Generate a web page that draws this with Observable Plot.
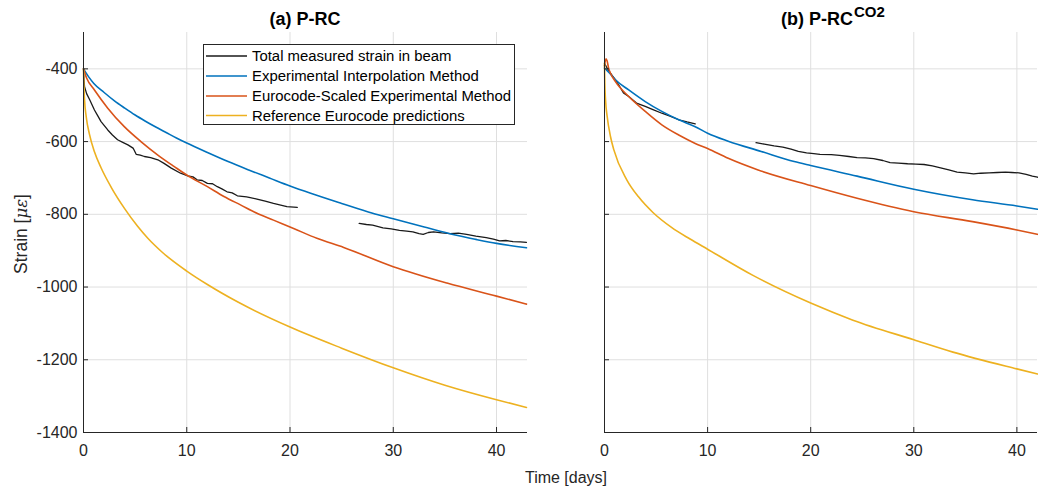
<!DOCTYPE html>
<html>
<head>
<meta charset="utf-8">
<script src="https://cdn.jsdelivr.net/npm/d3@7"></script>
<script src="https://cdn.jsdelivr.net/npm/@observablehq/plot@0.6"></script>
<style>
  html, body { margin: 0; padding: 0; background: #fff; }
  #wrap { position: relative; width: 1038px; height: 488px; overflow: hidden; background: #fff;
          font-family: "Liberation Sans", Arial, Helvetica, sans-serif; }
  #wrap > div, #wrap > svg { position: absolute; top: 0; }
</style>
</head>
<body>
<div id="wrap"></div>
<script>
// ---------------- DATA ----------------
const panelTitles = ["(a) P-RC", "(b) P-RC"];
const panelTitleSup = ["", "CO2"];
const xLabel = "Time [days]";
const yLabelText = "Strain [";
const yLabelMath = "με";
const legendLabels = [
  "Total measured strain in beam",
  "Experimental Interpolation Method",
  "Eurocode-Scaled Experimental Method",
  "Reference Eurocode predictions"
];
const seriesColors = ["#1a1a1a", "#0072BD", "#D95319", "#EDB120"];

const xTicks = [0, 10, 20, 30, 40];
const yTicks = [-1400, -1200, -1000, -800, -600, -400];
const xDomainA = [0, 43];
const xDomainB = [0, 42];
const yDomain = [-1400, -300];

// Panel (a) P-RC  : [time (days), strain (µε)]
const prcMeasured1 = [[0,-400],[0.05,-430],[0.1,-449],[0.3,-468],[0.6,-485],[1.06,-513],[1.4,-530],[1.7,-545],[2.35,-568],[2.8,-582],[3.3,-595],[3.8,-602],[4.3,-609],[4.8,-618],[4.9,-623],[5.1,-635],[5.5,-637],[5.9,-641],[6.5,-644],[7.2,-650],[7.8,-660],[8.5,-673],[9.4,-687],[10.1,-694],[10.6,-697],[11.0,-705],[11.5,-707],[12.0,-715],[12.5,-716],[12.96,-724],[13.4,-730],[13.9,-738],[14.4,-741],[14.9,-749],[15.8,-752],[16.8,-758],[17.6,-764],[18.4,-770],[19.0,-774],[19.7,-779],[20.7,-781]];
const prcMeasured2 = [[26.7,-825],[27.4,-828],[28.0,-830],[29.0,-837],[29.8,-840],[30.6,-844],[31.3,-846],[31.9,-848],[32.5,-853],[32.9,-855],[33.4,-850],[33.9,-848],[34.7,-851],[35.5,-853],[36.3,-852],[37.1,-855],[38.0,-860],[39.0,-864],[39.7,-868],[40.3,-873],[40.9,-872],[41.6,-875],[42.3,-876],[42.9,-877]];
const prcInterp = [[0,-400],[0.5,-422],[1,-440],[2,-465],[3,-488],[4,-508],[5,-527],[6,-544],[7,-560],[8,-575],[9,-590],[10,-604],[12,-630],[14,-655],[16,-678],[18,-700],[20,-722],[22,-742],[25,-770],[28,-797],[30,-812],[33,-835],[36,-857],[38,-869],[40,-880],[42.9,-892]];
const prcScaled = [[0,-400],[0.3,-425],[1.06,-458],[2.35,-508],[3.95,-559],[5.56,-600],[7.2,-637],[8.8,-669],[10,-692],[12,-724],[13.6,-751],[15.2,-774],[16.8,-797],[18.4,-816],[20.35,-839],[22.6,-866],[25.2,-891],[30,-944],[35.2,-989],[40,-1025],[42.9,-1047]];
const prcReference = [[0,-400],[0.03,-440],[0.1,-485],[0.26,-531],[0.58,-580],[1.06,-628],[1.7,-672],[2.67,-725],[4,-785],[5.24,-833],[6.23,-866],[7.57,-903],[10,-956],[12,-993],[15,-1042],[20,-1110],[25,-1168],[30,-1222],[35,-1270],[40,-1310],[42.9,-1331]];

// Panel (b) P-RC CO2
const co2Measured1 = [[0,-385],[0.2,-395],[0.58,-412],[1.06,-430],[1.4,-445],[1.84,-466],[2.35,-476],[3.1,-494],[3.95,-503],[4.7,-512],[5.56,-522],[6.35,-530],[7.2,-540],[8.0,-546],[8.8,-551]];
const co2Measured2 = [[14.7,-603],[15.5,-607],[16.45,-612],[17.3,-615],[18.1,-621],[18.8,-627],[19.6,-631],[20.3,-633],[20.9,-635],[22.0,-636],[22.8,-638],[23.7,-641],[24.5,-644],[25.3,-645],[26.1,-647],[27.0,-652],[27.7,-658],[28.5,-659],[29.4,-661],[30.2,-662],[31,-663],[31.8,-667],[32.6,-672],[33.4,-678],[34.2,-684],[35.0,-686],[35.8,-689],[36.5,-687],[37.3,-686],[38.1,-685],[38.9,-684],[39.5,-685],[40.2,-686],[40.9,-690],[41.5,-695],[42,-698]];
const co2Interp = [[0,-398],[0.5,-412],[1.06,-430],[2.35,-458],[3.95,-490],[5.56,-517],[7.2,-540],[8.8,-559],[10,-577],[12,-599],[15.2,-627],[18.4,-655],[20,-666],[24.5,-695],[30,-731],[35.7,-760],[40,-777],[42,-786]];
const co2Scaled = [[0,-392],[0.15,-372],[0.25,-378],[0.4,-398],[0.58,-412],[1.06,-435],[2.35,-476],[3.95,-517],[5.56,-554],[7.2,-582],[8.8,-605],[10,-619],[12,-646],[14.9,-678],[20,-721],[24.5,-756],[30,-793],[35.7,-820],[40,-843],[42,-855]];
const co2Reference = [[0,-384],[0.03,-439],[0.1,-485],[0.26,-531],[0.58,-586],[0.9,-622],[2.16,-705],[3.3,-752],[4.7,-795],[6.5,-836],[8.3,-868],[10,-896],[14.4,-968],[20,-1044],[24.1,-1091],[30,-1145],[33.8,-1179],[40,-1225],[42,-1239]];

// ---------------- CHART ----------------
const H = 488, MT = 32, MB = 56;
const gridColor = "#dfdfdf", axisColor = "#262626";
const font = '"Liberation Sans", Arial, Helvetica, sans-serif';

function toRows(pairs, seg) { return pairs.map(([t, v]) => ({t, v, seg})); }

function panel({width, marginLeft, marginRight, xDomain, showYLabels, measured, interp, scaled, reference}) {
  const innerW = width - marginLeft - marginRight;
  const innerH = H - MT - MB;
  const measuredRows = measured.flatMap((m, i) => toRows(m, "s" + i));
  const marks = [
    Plot.gridX(xTicks, {stroke: gridColor, strokeOpacity: 1, strokeWidth: 1}),
    Plot.gridY(yTicks, {stroke: gridColor, strokeOpacity: 1, strokeWidth: 1}),
    Plot.line(measuredRows, {x: "t", y: "v", z: "seg", stroke: seriesColors[0], strokeWidth: 1.3}),
    Plot.line(toRows(interp, "a"), {x: "t", y: "v", stroke: seriesColors[1], strokeWidth: 1.6, curve: "monotone-x"}),
    Plot.line(toRows(scaled, "a"), {x: "t", y: "v", stroke: seriesColors[2], strokeWidth: 1.6, curve: "monotone-x"}),
    Plot.line(toRows(reference, "a"), {x: "t", y: "v", stroke: seriesColors[3], strokeWidth: 1.6, curve: "monotone-x"}),
    Plot.tickX(xTicks, {x: d => d, stroke: axisColor, insetTop: innerH - 5}),
    Plot.tickY(yTicks, {y: d => d, stroke: axisColor, insetRight: innerW - 5}),
    Plot.ruleX([xDomain[0]], {stroke: axisColor, strokeWidth: 1}),
    Plot.ruleY([yDomain[0]], {stroke: axisColor, strokeWidth: 1}),
    Plot.axisX(xTicks, {tickSize: 0, tickPadding: 12, label: null, fill: axisColor, tickFormat: d => String(d)})
  ];
  if (showYLabels) marks.push(Plot.axisY(yTicks, {tickSize: 0, tickPadding: 6, label: null, fill: axisColor, tickFormat: d => String(d)}));
  return Plot.plot({
    width, height: H, marginLeft, marginRight, marginTop: MT, marginBottom: MB,
    x: {domain: xDomain, axis: null},
    y: {domain: yDomain, axis: null},
    style: {fontFamily: font, fontSize: "16px", color: axisColor, background: "transparent", overflow: "visible"},
    marks
  });
}

const wrap = document.getElementById("wrap");

const svgA = panel({width: 540, marginLeft: 83, marginRight: 13, xDomain: xDomainA, showYLabels: true,
  measured: [prcMeasured1, prcMeasured2], interp: prcInterp, scaled: prcScaled, reference: prcReference});
const divA = document.createElement("div"); divA.style.left = "0px"; divA.appendChild(svgA); wrap.appendChild(divA);

const svgB = panel({width: 498, marginLeft: 64, marginRight: 1, xDomain: xDomainB, showYLabels: false,
  measured: [co2Measured1, co2Measured2], interp: co2Interp, scaled: co2Scaled, reference: co2Reference});
const divB = document.createElement("div"); divB.style.left = "540px"; divB.appendChild(svgB); wrap.appendChild(divB);

// ---------------- OVERLAY TEXT & LEGEND ----------------
const ov = d3.create("svg").attr("width", 1038).attr("height", H)
  .style("left", "0px").style("pointer-events", "none")
  .attr("font-family", font).attr("fill", axisColor);

// titles
ov.append("text").attr("x", 305).attr("y", 25).attr("text-anchor", "middle")
  .attr("font-size", 18).attr("font-weight", "bold").attr("fill", "#000").text(panelTitles[0]);
const tB = ov.append("text").attr("x", 781).attr("y", 25).attr("text-anchor", "start")
  .attr("font-size", 18).attr("font-weight", "bold").attr("fill", "#000");
tB.append("tspan").text(panelTitles[1]);
tB.append("tspan").attr("font-size", 15).attr("dy", -8.5).attr("dx", 1).text(panelTitleSup[1]);

// x label
ov.append("text").attr("x", 566).attr("y", 483).attr("text-anchor", "middle")
  .attr("font-size", 16).text(xLabel);

// y label
const yl = ov.append("text").attr("transform", "translate(27,234) rotate(-90)")
  .attr("text-anchor", "middle").attr("font-size", 17.5);
yl.append("tspan").text(yLabelText);
yl.append("tspan").attr("font-family", '"DejaVu Serif", serif').attr("font-style", "italic").attr("font-size", 16.5).text(yLabelMath);
yl.append("tspan").text("]");

// legend
const lg = ov.append("g");
lg.append("rect").attr("x", 203.5).attr("y", 44.5).attr("width", 311).attr("height", 80)
  .attr("fill", "#fff").attr("stroke", axisColor).attr("stroke-width", 1);
const rowY = [56, 76, 96, 115.5];
legendLabels.forEach((lab, i) => {
  lg.append("line").attr("x1", 206).attr("x2", 247).attr("y1", rowY[i]).attr("y2", rowY[i])
    .attr("stroke", seriesColors[i]).attr("stroke-width", i === 0 ? 1.3 : 1.5);
  lg.append("text").attr("x", 252).attr("y", rowY[i] + 5.3).attr("font-size", 14.9).attr("fill", "#000").text(lab);
});

wrap.appendChild(ov.node());
</script>
</body>
</html>
